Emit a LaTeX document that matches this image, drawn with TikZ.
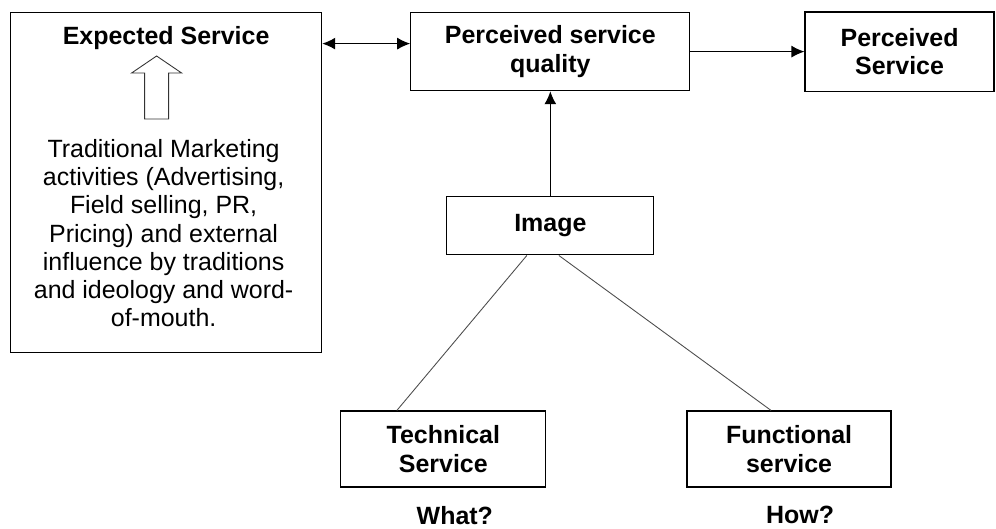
\documentclass[tikz,border=0pt]{standalone}
\usepackage{fontspec}
\setmainfont{Liberation Sans}
\usetikzlibrary{arrows.meta, positioning}

\begin{document}
\begin{tikzpicture}[
    node distance=6mm and 5mm,
    process/.style = {rectangle, draw, line width=0.7pt, align=center, inner sep=0pt, font = \fontsize{14.2}{16.1}\selectfont\bfseries},
    caption/.style = {inner sep=0pt, font = \fontsize{14.2}{16.1}\selectfont\bfseries},
    plain/.style = {align=center, inner sep=0pt, font = \fontsize{14.2}{16.1}\selectfont},
    link/.style = {line width=0.5pt, black!70},
    >={Latex[length=2.6mm, width=2.4mm]}]

\node[process, minimum width=62.2mm, minimum height=68mm] (A) {};
\useasboundingbox ([xshift=-2mm, yshift=2.4mm]A.north west) rectangle ++(199.2mm,-105.6mm);
\node[caption, anchor=base] (B) at ([yshift=-6.4mm]A.north) {Expected Service};
\coordinate (K) at ([xshift=-1.9mm, yshift=-8.8mm]A.north);
\node[plain] (C) at ([xshift=-0.5mm, yshift=-10.1mm]A.center) {Traditional Marketing\\
  activities (Advertising,\\
  Field selling, PR,\\
  Pricing) and external\\
  influence by traditions\\
  and ideology and word-\\
  of-mouth.};
\node[process, minimum width=55.8mm, minimum height=15.6mm, right=17.6mm of A.north east, anchor=north west] (D) {Perceived service\\quality};
\node[process, minimum width=37.8mm, minimum height=15.8mm, right=22.8mm of D] (E) {Perceived\\Service};
\node[process, minimum width=41.4mm, minimum height=11.6mm, below=21mm of D] (F) {Image};
\node[process, minimum width=41mm, minimum height=15.2mm, below=31mm of F, xshift=-21.4mm] (G) {Technical\\Service};
\node[process, minimum width=40.8mm, minimum height=15.2mm, right=28mm of G] (H) {Functional\\service};
\node[caption, below=3.6mm of G, xshift=2.3mm] (I) {What?};
\node[caption, below=3.6mm of H, xshift=2.2mm] (J) {How?};

% hollow arrow
\draw[line width=0.5pt, black!80] (K) -- ++(5mm,-3.4mm) -- ++(-2.6mm,0) -- ++(0,-9.2mm) -- ++(-4.8mm,0) -- ++(0,9.2mm) -- ++(-2.6mm,0) -- cycle;

%connectors
\draw[<->, line width=0.7pt] ([yshift=1.6mm]D.west -| A.east) -- ([yshift=1.6mm]D.west);
\draw[->, line width=0.7pt] (D) -- (E);
\draw[->, line width=0.7pt] (F) -- (D);
\draw[link] ([xshift=-4.7mm]F.south) -- ([xshift=-9.3mm]G.north);
\draw[link] ([xshift=1.7mm]F.south) -- ([xshift=-3.6mm]H.north);
\end{tikzpicture}
\end{document}
